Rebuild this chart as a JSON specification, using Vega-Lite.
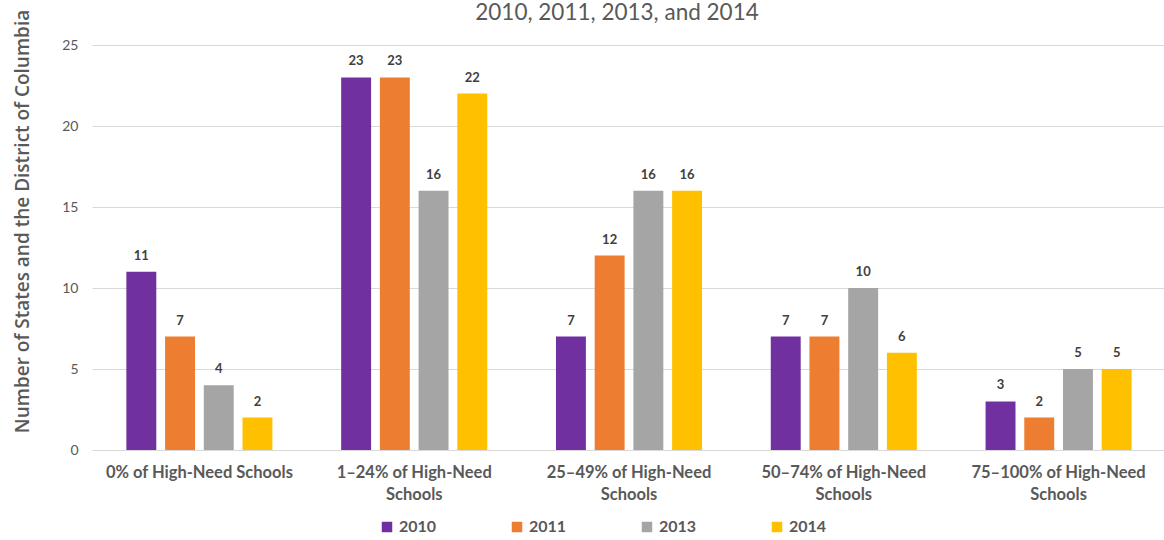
{
  "$schema": "https://vega.github.io/schema/vega-lite/v6.json",
  "autosize": {"type": "none"},
  "padding": {"left": 92, "top": 45, "right": 0, "bottom": 90},
  "width": 1074,
  "height": 405,
  "background": "white",
  "title": {
    "text": "2010, 2011, 2013, and 2014",
    "fontSize": 22.5,
    "font": "Lato",
    "fontWeight": "normal",
    "color": "#595959",
    "anchor": "middle",
    "frame": "group",
    "baseline": "alphabetic",
    "dx": -12,
    "offset": -33
  },
  "data": {
    "values": [
      {"cat": "0% of High-Need Schools", "year": "2010", "n": 11},
      {"cat": "0% of High-Need Schools", "year": "2011", "n": 7},
      {"cat": "0% of High-Need Schools", "year": "2013", "n": 4},
      {"cat": "0% of High-Need Schools", "year": "2014", "n": 2},
      {"cat": "1–24% of High-Need Schools", "year": "2010", "n": 23},
      {"cat": "1–24% of High-Need Schools", "year": "2011", "n": 23},
      {"cat": "1–24% of High-Need Schools", "year": "2013", "n": 16},
      {"cat": "1–24% of High-Need Schools", "year": "2014", "n": 22},
      {"cat": "25–49% of High-Need Schools", "year": "2010", "n": 7},
      {"cat": "25–49% of High-Need Schools", "year": "2011", "n": 12},
      {"cat": "25–49% of High-Need Schools", "year": "2013", "n": 16},
      {"cat": "25–49% of High-Need Schools", "year": "2014", "n": 16},
      {"cat": "50–74% of High-Need Schools", "year": "2010", "n": 7},
      {"cat": "50–74% of High-Need Schools", "year": "2011", "n": 7},
      {"cat": "50–74% of High-Need Schools", "year": "2013", "n": 10},
      {"cat": "50–74% of High-Need Schools", "year": "2014", "n": 6},
      {"cat": "75–100% of High-Need Schools", "year": "2010", "n": 3},
      {"cat": "75–100% of High-Need Schools", "year": "2011", "n": 2},
      {"cat": "75–100% of High-Need Schools", "year": "2013", "n": 5},
      {"cat": "75–100% of High-Need Schools", "year": "2014", "n": 5}
    ]
  },
  "encoding": {
    "x": {
      "field": "cat",
      "type": "nominal",
      "sort": null,
      "scale": {"paddingInner": 0.32, "paddingOuter": 0.16},
      "axis": {
        "title": null,
        "labelAngle": 0,
        "domain": false,
        "ticks": false,
        "labelFont": "Lato",
        "labelFontWeight": "bold",
        "labelFontSize": 16.5,
        "labelColor": "#595959",
        "labelPadding": 14,
        "labelLineHeight": 22,
        "labelLimit": 300,
        "labelExpr": "datum.value == '0% of High-Need Schools' ? datum.value : split(replace(datum.value, ' Schools', '|Schools'), '|')"
      }
    },
    "xOffset": {
      "field": "year",
      "type": "nominal",
      "sort": ["2010", "2011", "2013", "2014"],
      "scale": {"paddingInner": 0.227, "paddingOuter": 0}
    },
    "y": {
      "field": "n",
      "type": "quantitative",
      "scale": {"domain": [0, 25], "nice": false},
      "axis": {
        "title": "Number of States and the District of Columbia",
        "titleFont": "Open Sans",
        "titleFontSize": 19,
        "titleFontWeight": 600,
        "titleColor": "#595959",
        "titleAngle": -90,
        "titleAlign": "center",
        "titleBaseline": "alphabetic",
        "titleX": -64,
        "titleY": 176,
        "values": [0, 5, 10, 15, 20, 25],
        "domain": false,
        "ticks": false,
        "labelFont": "Lato",
        "labelFontSize": 14,
        "labelColor": "#595959",
        "labelPadding": 14,
        "gridColor": "#d9d9d9",
        "gridWidth": 1
      }
    }
  },
  "layer": [
    {
      "mark": {"type": "bar"},
      "encoding": {
        "color": {
          "field": "year",
          "type": "nominal",
          "scale": {
            "domain": ["2010", "2011", "2013", "2014"],
            "range": ["#7030A0", "#ED7D31", "#A5A5A5", "#FFC000"]
          },
          "legend": {
            "title": null,
            "orient": "none",
            "direction": "horizontal",
            "legendX": 287,
            "legendY": 474,
            "symbolType": "square",
            "symbolSize": 110,
            "symbolStrokeWidth": 0,
            "labelFont": "Lato",
            "labelFontWeight": "bold",
            "labelFontSize": 16,
            "labelColor": "#595959",
            "labelOffset": 4,
            "columnPadding": 72
          }
        }
      }
    },
    {
      "mark": {
        "type": "text",
        "dy": -16,
        "baseline": "middle",
        "font": "Lato",
        "fontWeight": "bold",
        "fontSize": 13,
        "color": "#404040"
      },
      "encoding": {"text": {"field": "n", "type": "quantitative"}}
    }
  ],
  "config": {"view": {"stroke": null}}
}
